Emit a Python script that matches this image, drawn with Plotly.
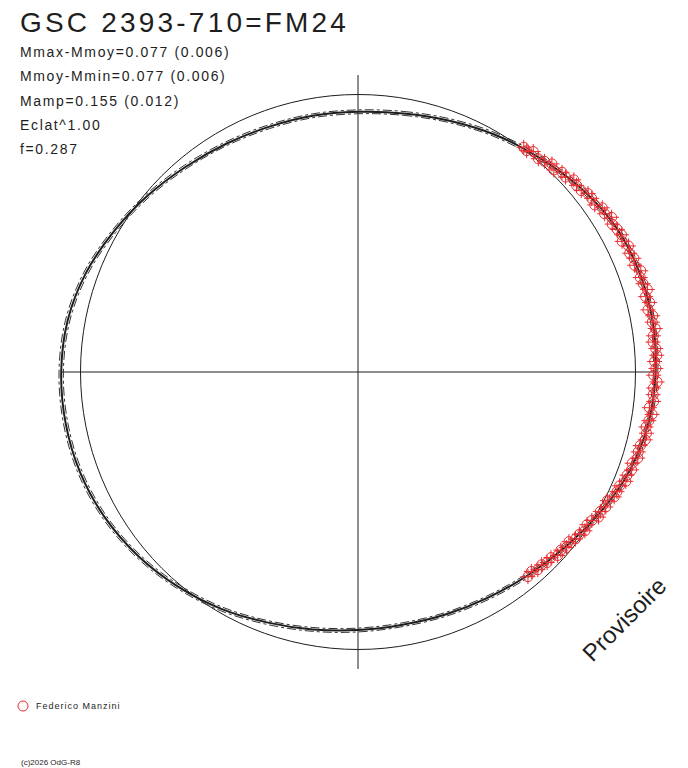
import numpy as np
import plotly.graph_objects as go

# ---------------- data ----------------
TITLE = "GSC 2393-710=FM24"
STATS = ["Mmax-Mmoy=0.077 (0.006)", "Mmoy-Mmin=0.077 (0.006)",
         "Mamp=0.155 (0.012)", "Eclat^1.00", "f=0.287"]
OBSERVER = "Federico Manzini"
CREDIT = "(c)2026 OdG-R8"
WATERMARK = "Provisoire"

# fitted light curve: phase and magnitude relative to mean
fit_phase = [0.0000, 0.0278, 0.0556, 0.0833, 0.1111, 0.1389, 0.1667, 0.1944,
             0.2222, 0.2500, 0.2778, 0.3056, 0.3333, 0.3611, 0.3889, 0.4167,
             0.4444, 0.4722, 0.5000, 0.5278, 0.5556, 0.5833, 0.6111, 0.6389,
             0.6667, 0.6944, 0.7222, 0.7500, 0.7778, 0.8056, 0.8333, 0.8611,
             0.8889, 0.9167, 0.9444, 0.9722]
fit_dm = [0.070, 0.060, 0.040, 0.014, -0.012, -0.042, -0.068, -0.079,
          -0.081, -0.076, -0.066, -0.044, -0.010, 0.024, 0.050, 0.069,
          0.080, 0.085, 0.079, 0.065, 0.044, 0.016, -0.010, -0.035,
          -0.055, -0.068, -0.073, -0.073, -0.066, -0.046, -0.016, 0.012,
          0.038, 0.056, 0.067, 0.070]
fit_err = 0.008

# observations (Federico Manzini): phase and magnitude relative to mean
obs_phase = [0.1011, 0.1036, 0.1069, 0.1117, 0.1153,
             0.1194, 0.1225, 0.1267, 0.1300, 0.1342, 0.1375, 0.1414, 0.1450,
             0.1483, 0.1522, 0.1558, 0.1592, 0.1628, 0.1661, 0.1700, 0.1736,
             0.1769, 0.1806, 0.1844, 0.1878, 0.1914, 0.1953, 0.1986, 0.2022,
             0.2058, 0.2092, 0.2128, 0.2164, 0.2200, 0.2233, 0.2269, 0.2306,
             0.2339, 0.2375, 0.2411, 0.2444, 0.2481, 0.2517, 0.2553, 0.2586,
             0.2622, 0.2658, 0.2694, 0.2728, 0.2764, 0.2800, 0.2833, 0.2869,
             0.2906, 0.2942, 0.2975, 0.3011, 0.3047, 0.3083, 0.3117, 0.3153,
             0.3189, 0.3222, 0.3258, 0.3294, 0.3331, 0.3364, 0.3400, 0.3436,
             0.3472, 0.3506, 0.3542, 0.3578, 0.3614, 0.3647, 0.3683, 0.3719,
             0.3756, 0.3789, 0.3825, 0.3861, 0.3897]
obs_dm = [-0.007, -0.003, -0.016, -0.007, -0.015,
          -0.027, -0.015, -0.031, -0.028, -0.044, -0.038, -0.039, -0.052,
          -0.052, -0.047, -0.064, -0.059, -0.074, -0.063, -0.070, -0.074,
          -0.065, -0.079, -0.072, -0.079, -0.072, -0.086, -0.076, -0.079,
          -0.088, -0.075, -0.084, -0.072, -0.085, -0.079, -0.086, -0.076,
          -0.072, -0.080, -0.082, -0.073, -0.077, -0.069, -0.082, -0.070,
          -0.070, -0.074, -0.061, -0.074, -0.066, -0.060, -0.066, -0.067,
          -0.054, -0.053, -0.058, -0.044, -0.050, -0.041, -0.045, -0.030,
          -0.030, -0.029, -0.012, -0.018, -0.008, -0.013, 0.002, 0.009,
          0.002, 0.012, 0.013, 0.027, 0.020, 0.030, 0.025, 0.039,
          0.036, 0.045, 0.041, 0.053, 0.046]

# ---------------- geometry ----------------
W, H = 688, 768
CX, CY, R0 = 358.0, 372.0, 277.5      # pixel centre and mean-brightness radius
AXIS_EXT = 1.07
RED = "rgb(232,44,48)"
INK = "#1e1e1e"


def to_xy(phase, dm):
    ph = np.asarray(phase, float)
    r = 10 ** (-0.4 * np.asarray(dm, float))  # Eclat^1
    ang = 2 * np.pi * ph
    return r * np.sin(ang), r * np.cos(ang)


ph_c = fit_phase + fit_phase[:1]
dm_arr = np.array(fit_dm + fit_dm[:1])
fx, fy = to_xy(ph_c, dm_arr)
ux, uy = to_xy(ph_c, dm_arr - fit_err)
lx, ly = to_xy(ph_c, dm_arr + fit_err)
ox, oy = to_xy(obs_phase, obs_dm)

fig = go.Figure()
for ex, ey in ((ux, uy), (lx, ly)):
    fig.add_trace(go.Scatter(x=ex, y=ey, mode="lines",
                             line=dict(color="#333", width=1, dash="dashdot",
                                       shape="spline", smoothing=1.0),
                             hoverinfo="skip", showlegend=False))
fig.add_trace(go.Scatter(x=fx, y=fy, mode="lines",
                         line=dict(color=INK, width=2, shape="spline", smoothing=1.0),
                         hoverinfo="skip", showlegend=False))
fig.add_trace(go.Scatter(
    x=ox, y=oy, mode="markers", name=OBSERVER, showlegend=False,
    marker=dict(symbol="circle-open", size=10, color=RED, line=dict(width=1, color=RED)),
    error_x=dict(type="constant", value=0.027, thickness=1, width=0, color=RED),
    error_y=dict(type="constant", value=0.027, thickness=1, width=0, color=RED),
))

# ranges so that 1 unit = R0 pixels, centre at (CX, CY)
xr = [-CX / R0, (W - CX) / R0]
yr = [-(H - CY) / R0, CY / R0]

shapes = [
    dict(type="line", xref="x", yref="y", x0=0, x1=0, y0=-AXIS_EXT, y1=AXIS_EXT,
         line=dict(color=INK, width=1), layer="below"),
    dict(type="line", xref="x", yref="y", x0=-AXIS_EXT, x1=AXIS_EXT, y0=0, y1=0,
         line=dict(color=INK, width=1), layer="below"),
    dict(type="circle", xref="x", yref="y", x0=-1, x1=1, y0=-1, y1=1,
         line=dict(color=INK, width=1), layer="below"),
    # legend symbol
    dict(type="circle", xref="paper", yref="paper",
         x0=18 / W, x1=28 / W, y0=1 - 711 / H, y1=1 - 701 / H,
         line=dict(color=RED, width=1)),
]

FONT = "Liberation Sans, Arial, sans-serif"


def spaced(t, ls):
    return f"<span style='letter-spacing:{ls}px'>{t}</span>"


ann = [dict(text=spaced(TITLE, 3.2), x=18 / W, y=1 - 22 / H, xref="paper", yref="paper",
            xanchor="left", yanchor="middle", showarrow=False,
            font=dict(family=FONT, size=28, color=INK))]
for i, s in enumerate(STATS):
    ann.append(dict(text=spaced(s, 1.65), x=18 / W, y=1 - (51.7 + 24.4 * i) / H,
                    xref="paper", yref="paper", xanchor="left", yanchor="middle",
                    showarrow=False, font=dict(family=FONT, size=14, color=INK)))
ann.append(dict(text=spaced(OBSERVER, 1.0), x=34 / W, y=1 - 705.5 / H, xref="paper",
                yref="paper", xanchor="left", yanchor="middle", showarrow=False,
                font=dict(family=FONT, size=9, color=INK)))
ann.append(dict(text=CREDIT, x=19 / W, y=1 - 762 / H, xref="paper", yref="paper",
                xanchor="left", yanchor="middle", showarrow=False,
                font=dict(family=FONT, size=8, color=INK)))
ann.append(dict(text=WATERMARK, x=624 / W, y=1 - 619.5 / H, xref="paper", yref="paper",
                xanchor="center", yanchor="middle", showarrow=False, textangle=-45,
                font=dict(family=FONT, size=24, color=INK)))

fig.update_layout(
    width=W, height=H, margin=dict(l=0, r=0, t=0, b=0),
    paper_bgcolor="white", plot_bgcolor="white",
    xaxis=dict(range=xr, visible=False, fixedrange=True),
    yaxis=dict(range=yr, visible=False, fixedrange=True),
    shapes=shapes, annotations=ann, showlegend=False,
)
fig.write_html("out.html", config={"displayModeBar": False},
               post_script="document.body.style.margin='0px';"
                           "document.body.style.overflow='hidden';")
